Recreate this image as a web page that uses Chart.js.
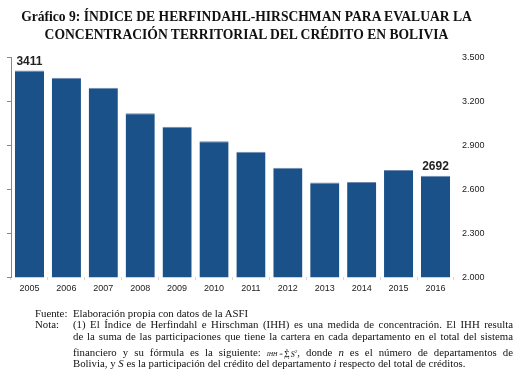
<!DOCTYPE html>
<html>
<head>
<meta charset="utf-8">
<script src="https://cdn.jsdelivr.net/npm/chart.js@4.4.1/dist/chart.umd.min.js"></script>
<style>
  html, body { margin:0; padding:0; background:#fff; }
  #wrap { position:relative; width:521px; height:382px; overflow:hidden; }
  #c { position:absolute; left:0; top:0; }
  .title { position:absolute; left:0; top:8px; width:493px; text-align:center;
           font-family:"Liberation Serif","Times New Roman",serif; font-weight:bold;
           font-size:13.6px; line-height:18px; color:#111; }
  .fl { position:absolute; font-family:"Liberation Serif","Times New Roman",serif;
        font-size:10.8px; line-height:12px; color:#111; white-space:nowrap; }
  .j { left:73px; width:440px; text-align:justify; text-align-last:justify; white-space:normal; }
  .lab { left:35px; }
  .frm { display:inline-block; vertical-align:middle; font-style:italic; }
  .sig { display:inline-flex; flex-direction:column; align-items:center; vertical-align:middle;
         line-height:4px; font-size:9px; margin:0 1px; }
  .sig small { font-size:4px; line-height:4px; font-style:italic; }
</style>
</head>
<body>
<div id="wrap">
  <canvas id="c" width="521" height="382"></canvas>
  <div class="title">Gráfico 9: ÍNDICE DE HERFINDAHL-HIRSCHMAN PARA EVALUAR LA<br>CONCENTRACIÓN TERRITORIAL DEL CRÉDITO EN BOLIVIA</div>

  <div class="fl lab" style="top:307px">Fuente:</div>
  <div class="fl" style="left:73px;top:307px">Elaboración propia con datos de la ASFI</div>
  <div class="fl lab" style="top:318px">Nota:</div>
  <div class="fl j" style="top:318px">(1) El Índice de Herfindahl e Hirschman (IHH) es una medida de concentración. El IHH resulta</div>
  <div class="fl j" style="top:330px">de la suma de las participaciones que tiene la cartera en cada departamento en el total del sistema</div>
  <div class="fl j" style="top:346px">financiero y su fórmula es la siguiente: <span class="frm" style="font-size:6px">IHH =</span><span class="sig"><small>n</small>Σ<small>i=1</small></span><span class="frm" style="font-size:8px">S<sup style="font-size:5px">2</sup></span>, donde <i>n</i> es el número de departamentos de</div>
  <div class="fl" style="left:73px;top:357px">Bolivia, y <i>S</i> es la participación del crédito del departamento <i>i</i> respecto del total de créditos.</div>
</div>
<script>
const years = ["2005","2006","2007","2008","2009","2010","2011","2012","2013","2014","2015","2016"];
const ihhValues = [3411, 3361, 3293, 3119, 3028, 2929, 2856, 2748, 2647, 2650, 2732, 2692];
const labeledIndices = [0, 11];
const yMin = 2000, yMax = 3500, yStep = 300;

const barLabels = {
  id: 'barLabels',
  afterDatasetsDraw(chart) {
    const ctx = chart.ctx;
    const meta = chart.getDatasetMeta(0);
    ctx.save();
    ctx.font = 'bold 12px "Liberation Sans", Arial, sans-serif';
    ctx.fillStyle = '#222';
    ctx.textAlign = 'center';
    ctx.textBaseline = 'bottom';
    labeledIndices.forEach(i => {
      const el = meta.data[i];
      ctx.fillText(String(ihhValues[i]), el.x, el.y - 3);
    });
    ctx.restore();
  }
};

new Chart(document.getElementById('c'), {
  type: 'bar',
  data: {
    labels: years,
    datasets: [{
      data: ihhValues,
      yAxisID: 'y',
      backgroundColor: '#1b5189',
      borderColor: '#7189b0',
      borderWidth: {top: 1, right: 0, left: 0, bottom: 0},
      borderSkipped: false,
      categoryPercentage: 1.0,
      barPercentage: 0.79
    }]
  },
  options: {
    responsive: false,
    animation: false,
    devicePixelRatio: 1,
    layout: { padding: { left: 7, right: 28.5, top: 57.5, bottom: 85 } },
    plugins: { legend: { display: false }, tooltip: { enabled: false }, title: { display: false } },
    scales: {
      x: {
        offset: true,
        border: { display: false },
        grid: { display: true, drawOnChartArea: false, drawTicks: true, tickLength: 3, color: '#d8d8d8', offset: true },
        ticks: { padding: 3, color: '#222', font: { family: '"Liberation Sans", Arial, sans-serif', size: 9 } }
      },
      y: {
        position: 'left',
        min: yMin, max: yMax,
        ticks: { stepSize: yStep, display: false },
        border: { display: true, color: '#888', width: 1 },
        grid: { display: true, drawOnChartArea: false, drawTicks: true, tickLength: 4, color: '#888' }
      },
      y2: {
        position: 'right',
        min: yMin, max: yMax,
        border: { display: false },
        grid: { display: false, drawTicks: false },
        ticks: {
          stepSize: yStep, padding: 8, color: '#222',
          font: { family: '"Liberation Sans", Arial, sans-serif', size: 9 },
          callback: v => v.toLocaleString('de-DE')
        }
      }
    }
  },
  plugins: [barLabels]
});
</script>
</body>
</html>
